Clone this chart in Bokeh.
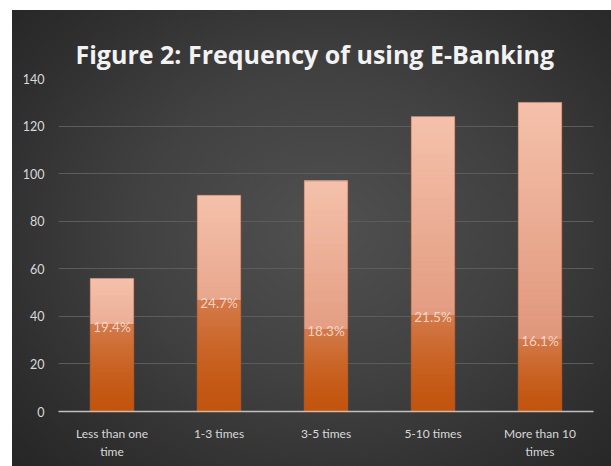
import json
import numpy as np
from bokeh.plotting import figure
from bokeh.models import Range1d, FactorRange, FixedTicker, CategoricalAxis, CustomJSTickFormatter
from bokeh.embed import file_html
from bokeh.resources import INLINE
from bokeh.core.properties import value

# ---- data ----
categories = ["Less than one time", "1-3 times", "3-5 times", "5-10 times", "More than 10 times"]
label_line1 = ["Less than one", "1-3 times", "3-5 times", "5-10 times", "More than 10"]
label_line2 = ["time", "", "", "", "times"]
respondents = [56, 91, 97, 124, 130]
pct_share = [19.4, 24.7, 18.3, 21.5, 16.1]
pct_labels = ["19.4%", "24.7%", "18.3%", "21.5%", "16.1%"]
y_ticks = [0, 20, 40, 60, 80, 100, 120, 140]
title_text = "Figure 2: Frequency of using E-Banking"


def hex_to_rgb(h):
    h = h.lstrip("#")
    return tuple(int(h[i:i + 2], 16) for i in (0, 2, 4))


def lerp(c1, c2, t):
    a, b = hex_to_rgb(c1), hex_to_rgb(c2)
    return "#%02x%02x%02x" % tuple(int(round(a[i] + (b[i] - a[i]) * t)) for i in range(3))


def line_formatter(lines):
    mapping = json.dumps(dict(zip(categories, lines)))
    return CustomJSTickFormatter(code="const m = %s; return (tick in m) ? m[tick] : tick;" % mapping)


p = figure(
    width=599, height=456,
    x_range=FactorRange(factors=categories),
    y_range=Range1d(0, 140),
    output_backend="svg", toolbar_location=None,
    min_border_left=46, min_border_right=18,
    min_border_top=68, min_border_bottom=55,
)
p.margin = (10, 0, 0, 12)
p.extra_y_ranges = {"pct": Range1d(0, 74.3)}
p.background_fill_color = None
p.border_fill_color = None
p.outline_line_color = None
p.styles = {"background": "radial-gradient(ellipse 70% 75% at 52% 48%, #505050 0%, #414141 45%, #2f2f2f 80%, #262626 100%)"}

# title
p.title.text = title_text
p.title.align = "left"
p.title.offset = 17
p.title.text_font = "Open Sans"
p.title.text_font_style = "bold"
p.title.text_font_size = "25px"
p.title.text_color = "#f2f2f2"
p.title.standoff = 15

BW = 0.41
N = 40
fr = np.linspace(0, 1, N + 1)

# full bar: peach gradient (overlapping bands to avoid seams)
for i in range(N):
    p.vbar(x=categories,
           bottom=[v * fr[i] for v in respondents],
           top=respondents,
           width=BW, line_color=None,
           fill_color=lerp("#d98a6c", "#f5c1ab", (i + 0.5) / N))

# lower part: orange gradient on the percentage scale
for i in range(N):
    p.vbar(x=categories,
           bottom=[v * fr[i] for v in pct_share],
           top=pct_share,
           width=BW, line_color=None, y_range_name="pct",
           fill_color=lerp("#c2550e", "#d47b4a", ((i + 0.5) / N) ** 1.5))

# bar outline
p.vbar(x=categories, top=respondents, width=BW, fill_color=None,
       line_color="#9a5238", line_alpha=0.6, line_width=1)

# percentage labels
p.text(x=categories, y=pct_share, text=pct_labels, y_range_name="pct",
       text_align="center", text_baseline="middle", y_offset=2,
       text_font=value("Lato"), text_font_size="13.5px",
       text_color="#f8ddd2", text_alpha=0.92)

# axes
p.yaxis.ticker = FixedTicker(ticks=y_ticks)
p.yaxis.axis_line_color = None
p.yaxis.major_tick_line_color = None
p.yaxis.minor_tick_line_color = None
p.yaxis.major_label_text_color = "#d9d9d9"
p.yaxis.major_label_text_font = "Lato"
p.yaxis.major_label_text_font_size = "12.5px"
p.yaxis.major_label_standoff = 8

p.xaxis.formatter = line_formatter(label_line1)
p.xaxis.axis_line_color = "#bfbfbf"
p.xaxis.axis_line_width = 1.5
p.xaxis.major_tick_line_color = None
p.xaxis.minor_tick_line_color = None
p.xaxis.major_label_text_color = "#d9d9d9"
p.xaxis.major_label_text_font = "Lato"
p.xaxis.major_label_text_font_size = "12px"
p.xaxis.major_label_standoff = 8

# second line of the category labels
x2 = CategoricalAxis(formatter=line_formatter(label_line2))
x2.axis_line_color = None
x2.major_tick_line_color = None
x2.minor_tick_line_color = None
x2.major_label_text_color = "#d9d9d9"
x2.major_label_text_font = "Lato"
x2.major_label_text_font_size = "12px"
x2.major_label_standoff = -6
p.add_layout(x2, "below")

p.xgrid.grid_line_color = None
p.ygrid.grid_line_color = "#5c5c5c"
p.ygrid.grid_line_width = 1

open("out.html", "w").write(file_html(p, INLINE))
